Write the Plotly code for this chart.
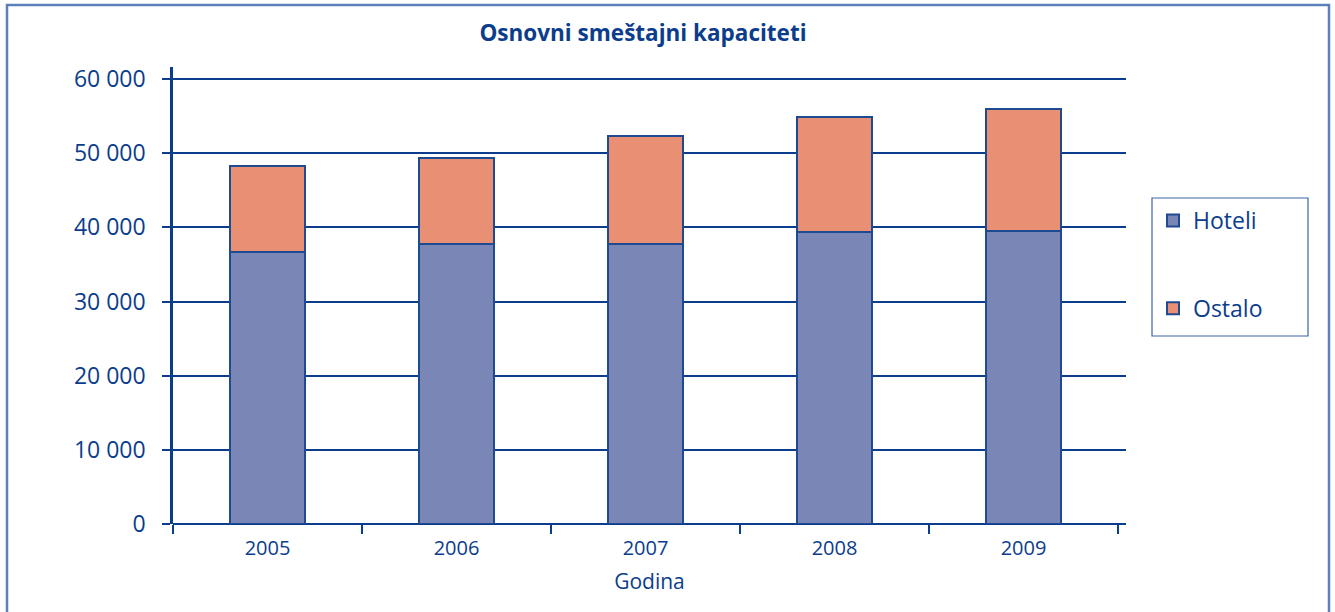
import plotly.graph_objects as go

years = ["2005", "2006", "2007", "2008", "2009"]
hoteli = [36700, 37800, 37800, 39400, 39500]
ukupno = [48300, 49300, 52300, 54900, 56000]
ostalo = [t - h for t, h in zip(ukupno, hoteli)]

DARK = "#0b3d8c"
FONT = "Open Sans"

W, H = 1335, 612
L, R, T, B = 173, 209, 67, 88
pw, ph = W - L - R, H - T - B

fig = go.Figure()
fig.add_trace(go.Bar(x=years, y=hoteli, name="Hoteli", legendgroup="a",
                     marker=dict(color="#7a86b6", line=dict(color="#1d4a91", width=2))))
fig.add_trace(go.Bar(x=years, y=ostalo, name="Ostalo", legendgroup="b",
                     marker=dict(color="#e98f74", line=dict(color="#1d4a91", width=2))))

def px_x(p):
    return (p - L) / pw

def px_y(p):
    return (H - B - p) / ph

fig.update_layout(
    width=W, height=H,
    margin=dict(l=L, r=R, t=T, b=B),
    barmode="stack", bargap=0.6,
    separators=". ",
    paper_bgcolor="white", plot_bgcolor="white",
    font=dict(family=FONT, color=DARK),
    title=dict(text="<b>Osnovni smeštajni kapaciteti</b>", x=643 / W, xref="container",
               xanchor="center", y=1 - 33 / H, yref="container", yanchor="middle",
               font=dict(size=22.5, color=DARK, family=FONT)),
    xaxis=dict(range=[-0.5, -0.5 + pw / 189.0], tickson="boundaries", ticks="outside",
               ticklen=9, tickwidth=2, tickcolor=DARK, showline=False,
               ticklabelstandoff=10,
               tickfont=dict(size=20, color=DARK),
               title=dict(text="Godina", font=dict(size=21, color=DARK), standoff=14)),
    yaxis=dict(range=[0, 60000 + (79 - 67) / 445 * 60000], tickvals=[0, 10000, 20000, 30000, 40000, 50000, 60000],
               tickformat=",d", ticks="outside", ticklen=8, tickwidth=2, tickcolor=DARK,
               ticklabelstandoff=12,
               showgrid=True, gridcolor=DARK, gridwidth=2,
               showline=True, linecolor=DARK, linewidth=2.5,
               zeroline=True, zerolinecolor=DARK, zerolinewidth=2,
               tickfont=dict(size=23, color=DARK)),
    legend=dict(x=px_x(1153), y=px_y(199), xanchor="left", yanchor="top",
                borderwidth=0, bgcolor="rgba(0,0,0,0)",
                font=dict(size=23, color=DARK), tracegroupgap=55,
                traceorder="grouped"),
    showlegend=True,
)

# outer frame
fig.add_shape(type="rect", xref="paper", yref="paper",
              x0=px_x(7), x1=px_x(1329), y0=px_y(640), y1=px_y(5),
              line=dict(color="#5b80ba", width=2.5), layer="below")
# legend box
fig.add_shape(type="rect", xref="paper", yref="paper",
              x0=px_x(1152), x1=px_x(1308), y0=px_y(336), y1=px_y(198),
              line=dict(color="#3d64a6", width=1.2), fillcolor="white", layer="below")

fig.write_html("out.html", config={"displayModeBar": False},
               post_script="document.body.style.margin='0';document.body.style.overflow='hidden';")
